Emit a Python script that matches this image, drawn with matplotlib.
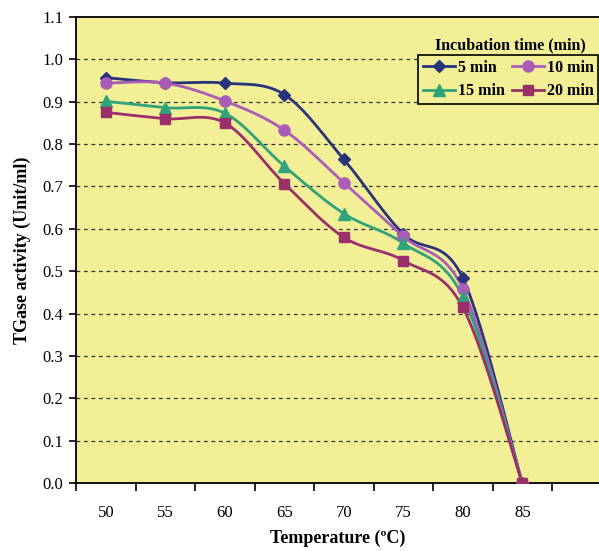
import numpy as np
import matplotlib
matplotlib.use("Agg")
import matplotlib.pyplot as plt
from matplotlib.lines import Line2D

plt.rcParams['font.family'] = ['Liberation Serif', 'DejaVu Serif']

temps = ["50", "55", "60", "65", "70", "75", "80", "85"]
series_names = ["5 min", "10 min", "15 min", "20 min"]
v5 = [0.957, 0.945, 0.944, 0.917, 0.764, 0.588, 0.484, 0.0]
v10 = [0.944, 0.944, 0.902, 0.833, 0.709, 0.582, 0.459, 0.0]
v15 = [0.901, 0.886, 0.873, 0.748, 0.636, 0.566, 0.440, 0.0]
v20 = [0.875, 0.860, 0.850, 0.707, 0.580, 0.525, 0.415, 0.0]
values = [v5, v10, v15, v20]
colors = ["#27337A", "#AA5CB8", "#2FA37A", "#9A2F6C"]
markers = ["D", "o", "^", "s"]
msizes = [6, 8, 8, 6.5]

def smooth(x, y, yscale, n=30):
    # Catmull-Rom style curve in roughly pixel-proportional space
    P = np.column_stack([np.asarray(x, float), np.asarray(y, float) * yscale])
    pts = []
    for i in range(len(P) - 1):
        p0 = P[i - 1] if i > 0 else P[i]
        p1 = P[i]
        p2 = P[i + 1]
        p3 = P[i + 2] if i + 2 < len(P) else P[i + 1]
        c1 = p1 + (p2 - p0) / 6.0
        c2 = p2 - (p3 - p1) / 6.0
        t = np.linspace(0, 1, n)[:, None]
        seg = ((1 - t) ** 3) * p1 + 3 * ((1 - t) ** 2) * t * c1 + 3 * (1 - t) * t ** 2 * c2 + t ** 3 * p2
        pts.append(seg if i == 0 else seg[1:])
    pts = np.vstack(pts)
    return pts[:, 0], pts[:, 1] / yscale

fig = plt.figure(figsize=(5.99, 5.51), dpi=100)
ax = fig.add_axes([0.127, 0.1234, 0.873, 0.8457])
ax.set_facecolor("#F3EF97")

x = np.arange(len(temps))
yscale = 7.1
for vals, c, m, ms, name in zip(values, colors, markers, msizes, series_names):
    xs, ys = smooth(x, vals, yscale)
    ax.plot(xs, ys, color=c, lw=2, zorder=3)
    ax.plot(x, vals, linestyle="none", marker=m, color=c, markersize=ms, zorder=4,
            markeredgecolor=c)

ax.set_xlim(-0.5, 8.29)
ax.set_ylim(0, 1.1)
ax.set_yticks(np.arange(0, 1.11, 0.1))
ax.set_yticklabels([f"{v:.1f}" for v in np.arange(0, 1.11, 0.1)])
ax.set_xticks(x)
ax.set_xticklabels(temps)
ax.set_xticks(np.arange(-0.5, 8.3, 1.0), minor=True)
ax.tick_params(axis="x", which="major", length=0, pad=16, labelsize=12)
ax.tick_params(axis="x", which="minor", length=6, width=1.2, direction="out")
ax.tick_params(axis="y", length=5, width=1.2, labelsize=12, pad=4)
for yv in np.arange(0.1, 1.05, 0.1):
    ax.axhline(yv, color="#333333", lw=0.9, ls=(0, (3, 3)), zorder=1)
for s in ["left", "bottom", "top"]:
    ax.spines[s].set_linewidth(1.3)
ax.spines["right"].set_visible(False)

ax.set_ylabel("TGase activity (Unit/ml)", fontsize=13, fontweight="bold", labelpad=8)
ax.set_xlabel("Temperature (ºC)", fontsize=13, fontweight="bold", labelpad=6)

handles = [Line2D([0], [0], color=c, lw=2, marker=m, markersize=ms)
           for c, m, ms in zip(colors, markers, msizes)]
order = [0, 2, 1, 3]
leg = ax.legend([handles[i] for i in order], [series_names[i] for i in order],
                ncol=2, loc="upper right", bbox_to_anchor=(0.999, 0.918),
                frameon=True, fancybox=False, edgecolor="black", facecolor="#F3EF97",
                framealpha=1, prop={"weight": "bold", "size": 11.5},
                handlelength=2.0, columnspacing=0.4, handletextpad=0.2,
                borderpad=0.3, labelspacing=0.45, borderaxespad=0)
leg.get_frame().set_linewidth(1.2)
ax.text(0.83, 0.94, "Incubation time (min)", transform=ax.transAxes,
        ha="center", va="center", fontsize=11.5, fontweight="bold")

fig.savefig("out.png", dpi=100)
